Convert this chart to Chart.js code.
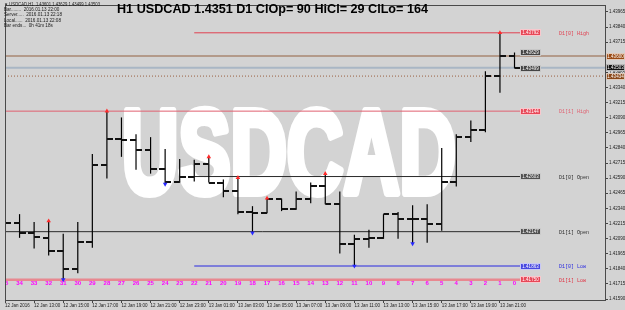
<!DOCTYPE html>
<html><head><meta charset="utf-8">
<script src="https://cdn.jsdelivr.net/npm/chart.js@4.4.1/dist/chart.umd.min.js"></script>
<style>html,body{margin:0;padding:0;background:#d3d3d3;overflow:hidden}canvas{display:block}</style>
</head><body>
<canvas id="c" width="625" height="310"></canvas>
<script>
// ---------- DATA ----------
const barNumbers = [35,34,33,32,31,30,29,28,27,26,25,24,23,22,21,20,19,18,17,16,15,14,13,12,11,10,9,8,7,6,5,4,3,2,1,0];
const opens  = [1.42235,1.42219,1.42137,1.42096,1.41990,1.41835,1.42064,1.42700,1.42912,1.42905,1.42823,1.42668,1.42562,1.42603,1.42708,1.42553,1.42480,1.42309,1.42305,1.42415,1.42333,1.42415,1.42521,1.42374,1.42048,1.42088,1.42096,1.42292,1.42251,1.42251,1.42211,1.42562,1.42929,1.42986,1.43435,1.43601];
const highs  = [1.42292,1.42292,1.42227,1.42235,1.42129,1.42227,1.42790,1.43144,1.43092,1.42953,1.42929,1.42831,1.42749,1.42741,1.42766,1.42578,1.42594,1.42358,1.42423,1.42420,1.42480,1.42553,1.42627,1.42480,1.42121,1.42162,1.42292,1.42309,1.42366,1.42374,1.42839,1.42953,1.43067,1.43475,1.43792,1.43629];
const lows   = [1.42170,1.42096,1.42007,1.41949,1.41750,1.41803,1.42015,1.42586,1.42766,1.42659,1.42627,1.42540,1.42553,1.42562,1.42553,1.42431,1.42292,1.42137,1.42300,1.42317,1.42328,1.42382,1.42374,1.41966,1.41863,1.42015,1.42088,1.42088,1.42048,1.42056,1.42154,1.42521,1.42888,1.42970,1.43296,1.43499];
const closes = [1.42219,1.42137,1.42105,1.41990,1.41835,1.42064,1.42700,1.42912,1.42908,1.42823,1.42668,1.42562,1.42597,1.42708,1.42553,1.42480,1.42309,1.42305,1.42415,1.42333,1.42415,1.42521,1.42374,1.42048,1.42088,1.42096,1.42292,1.42251,1.42251,1.42211,1.42562,1.42929,1.42986,1.43435,1.43601,1.43503];
const fractalUpBars   = [3,7,14,16,18,22,34];
const fractalDownBars = [4,11,17,24,28];
const timeTickBars   = [0,2,4,6,8,10,12,14,16,18,20,22,24,26,28,30,32,34];
const timeTickLabels = ['12 Jan 2016','12 Jan 13:00','12 Jan 15:00','12 Jan 17:00','12 Jan 19:00','12 Jan 21:00','12 Jan 23:00','13 Jan 01:00','13 Jan 03:00','13 Jan 05:00','13 Jan 07:00','13 Jan 09:00','13 Jan 11:00','13 Jan 13:00','13 Jan 15:00','13 Jan 17:00','13 Jan 19:00','13 Jan 21:00'];
const priceTicks = [1.41590,1.41715,1.41840,1.41965,1.42090,1.42215,1.42340,1.42465,1.42590,1.42715,1.42840,1.42965,1.43090,1.43215,1.43340,1.43465,1.43590,1.43715,1.43840,1.43965];
const levelNames    = ['D1[0] High','D1[1] High','D1[0] Open','D1[1] Open','D1[0] Low','D1[1] Low'];
const levelValues   = [1.43792,1.43144,1.42603,1.42147,1.41863,1.41750];
const levelFromBar  = [13,0,13,0,13,0];
const markerValues  = [1.43600,1.43503,1.43434];   // brown level, bid, dotted level
const lastBarLabels = [1.43629,1.43499];
const titleText = 'H1 USDCAD 1.4351 D1 ClOp= 90 HiCl= 29 ClLo= 164';
const infoLines = ['\u25BC USDCAD,H1  1.43601 1.43629 1.43499 1.43503','Bar........  2016.01.13 22:00','Server.....  2016.01.13 22:18','Local......  2016.01.13 22:08','Bar ends...  0h 41m 18s'];

// ---------- STYLE / GEOMETRY ----------
const X_MIN = 0, X_MAX = 41.216, LABEL_AT = 35.41;
const Y_MIN = 1.415818, Y_MAX = 1.44022;
const levelColors = ['#e04050','#e06070','#2a2a2a','#2a2a2a','#2828e0','#e88890'];
const levelWidths = [1,1,1,1,1,2.5];
const levelBoxBg  = ['#e84858','#e84858','#505050','#505050','#4848e0','#e84858'];
const FONT = "'Liberation Sans', Arial, sans-serif";

function tickImg(side){
  const c=document.createElement('canvas'); c.width=12; c.height=2;
  const g=c.getContext('2d'); g.fillStyle='#111'; g.fillRect(side<0?0:6,0,6,2); return c;
}
const openImg = tickImg(-1), closeImg = tickImg(1);

const idx = opens.map((_,i)=>i);
const datasets = [
  {type:'scatter', data: fractalUpBars.map(i=>({x:i,y:highs[i]})), pointStyle:'triangle', pointRadius:2.6, backgroundColor:'#ff2a2a', borderColor:'#ff2a2a', borderWidth:0},
  {type:'scatter', data: fractalDownBars.map(i=>({x:i,y:lows[i]})), pointStyle:'triangle', rotation:180, pointRadius:2.6, backgroundColor:'#2a2aff', borderColor:'#2a2aff', borderWidth:0},
  {type:'scatter', data: idx.map(i=>({x:i,y:opens[i]})), pointStyle:openImg, pointRadius:1},
  {type:'scatter', data: idx.map(i=>({x:i,y:closes[i]})), pointStyle:closeImg, pointRadius:1},
  {type:'bar', data: idx.map(i=>({x:i,y:[lows[i],highs[i]]})), backgroundColor:'#000', borderWidth:0, barThickness:1.2, inflateAmount:0}
];
levelValues.forEach((v,k)=>{
  datasets.push({type:'line', data:[{x:levelFromBar[k],y:v},{x:LABEL_AT,y:v}], borderColor:levelColors[k], borderWidth:levelWidths[k], pointRadius:0, fill:false});
});
datasets.push({type:'line', data:[{x:X_MIN,y:markerValues[0]},{x:X_MAX,y:markerValues[0]}], borderColor:'#b39a8a', borderWidth:2, pointRadius:0});
datasets.push({type:'line', data:[{x:X_MIN,y:markerValues[1]},{x:X_MAX,y:markerValues[1]}], borderColor:'#a9b6c4', borderWidth:2, pointRadius:0});
datasets.push({type:'line', data:[{x:X_MIN,y:markerValues[2]},{x:X_MAX,y:markerValues[2]}], borderColor:'#9a6040', borderWidth:1, borderDash:[1,2], pointRadius:0});

function box(ctx,x,y,text,bg,fg,w){
  const h=7, top=Math.round(y-h/2);
  ctx.fillStyle=bg; ctx.fillRect(x,top,w,h);
  ctx.strokeStyle='rgba(255,255,255,0.7)'; ctx.lineWidth=1; ctx.strokeRect(x+0.5,top+0.5,w-1,h-1);
  ctx.fillStyle=fg; ctx.font='4.5px '+FONT; ctx.textAlign='center'; ctx.textBaseline='middle';
  ctx.fillText(text,x+w/2,top+h/2+0.3);
}

const deco = {
  id:'deco',
  beforeDraw(chart){ const c=chart.ctx; c.save(); c.fillStyle='#d3d3d3'; c.fillRect(0,0,chart.width,chart.height); c.restore(); },
  beforeDatasetsDraw(chart){
    const {ctx,chartArea:a}=chart;
    ctx.save(); ctx.beginPath(); ctx.rect(a.left,a.top,a.right-a.left,a.bottom-a.top); ctx.clip();
    ctx.font='bold 118px '+FONT;
    const w=ctx.measureText('USDCAD').width;
    ctx.translate(122,193); ctx.scale(334/w,1);
    ctx.fillStyle='#ffffff'; ctx.strokeStyle='#ffffff'; ctx.lineWidth=8; ctx.lineJoin='round';
    ctx.strokeText('USDCAD',0,0); ctx.fillText('USDCAD',0,0);
    ctx.restore();
  },
  afterDatasetsDraw(chart){
    const {ctx,chartArea:a,scales:{x,y}}=chart;
    ctx.save();
    // frame
    ctx.strokeStyle='#4a4a4a'; ctx.lineWidth=1; ctx.beginPath();
    ctx.moveTo(a.left+0.5,a.top); ctx.lineTo(a.left+0.5,a.bottom);
    ctx.moveTo(a.left,a.top+0.5); ctx.lineTo(a.right,a.top+0.5); ctx.stroke();
    // bar numbers
    ctx.save(); ctx.beginPath(); ctx.rect(a.left+1,a.top,a.right-a.left,a.bottom-a.top); ctx.clip();
    ctx.fillStyle='#ff00ff'; ctx.font='bold 6px '+FONT; ctx.textAlign='center'; ctx.textBaseline='middle';
    barNumbers.forEach((n,i)=>ctx.fillText(String(n), x.getPixelForValue(i), a.bottom-17));
    ctx.restore();
    // level boxes + names
    const bx = Math.round(x.getPixelForValue(LABEL_AT));
    levelValues.forEach((v,k)=>{
      const py=y.getPixelForValue(v);
      box(ctx,bx,py,v.toFixed(5),levelBoxBg[k],'#fff',21);
      ctx.fillStyle=levelColors[k]==='#e88890'?'#e03040':levelColors[k];
      ctx.font='5px "Liberation Mono", monospace'; ctx.textAlign='left'; ctx.textBaseline='middle';
      ctx.fillText(levelNames[k], bx+39, py+1);
    });
    lastBarLabels.forEach(v=>box(ctx,bx,y.getPixelForValue(v),v.toFixed(5),'#444','#fff',21));
    // right axis markers
    const axBg=['#9a4a14','#101010','#8a4616'];
    markerValues.forEach((v,k)=>box(ctx,a.right+1,y.getPixelForValue(v),v.toFixed(5),axBg[k],'#fff',19));
    // title
    ctx.fillStyle='#000'; ctx.font='bold 12px '+FONT; ctx.textAlign='left'; ctx.textBaseline='alphabetic';
    const tw=ctx.measureText(titleText).width;
    ctx.save(); ctx.translate(117,12.5); ctx.scale(311/tw,1); ctx.fillText(titleText,0,0); ctx.restore();
    // info
    ctx.fillStyle='#1a1a1a'; ctx.font='4.6px '+FONT;
    infoLines.forEach((t,k)=>ctx.fillText(t,4,6+k*5.2, k===0?96:64));
    ctx.restore();
  }
};

new Chart(document.getElementById('c'), {
  type:'bar',
  data:{datasets},
  options:{
    responsive:false, animation:false, devicePixelRatio:1, events:[],
    layout:{padding:{left:2,top:1,right:0,bottom:0}},
    plugins:{legend:{display:false},tooltip:{enabled:false},title:{display:false}},
    scales:{
      x:{type:'linear',min:X_MIN,max:X_MAX,offset:false,bounds:'data',
        afterBuildTicks:s=>{s.ticks=timeTickBars.map(v=>({value:v}));},
        afterFit:s=>{s.height=10;s.paddingLeft=0;s.paddingRight=0;},
        ticks:{callback:(v,i)=>timeTickLabels[i],align:'start',autoSkip:false,maxRotation:0,minRotation:0,padding:0,color:'#222',font:{size:4.5,family:FONT}},
        grid:{drawOnChartArea:false,offset:false,tickLength:3,color:'#444'},
        border:{display:true,color:'#4a4a4a'}},
      y:{type:'linear',position:'right',min:Y_MIN,max:Y_MAX,bounds:'data',beginAtZero:false,
        afterBuildTicks:s=>{s.ticks=priceTicks.map(v=>({value:v}));},
        afterFit:s=>{s.width=20;s.paddingTop=0;s.paddingBottom=0;},
        ticks:{callback:v=>Number(v).toFixed(5),autoSkip:false,padding:1,color:'#222',font:{size:4.5,family:FONT}},
        grid:{drawOnChartArea:false,tickLength:3,color:'#444'},
        border:{display:true,color:'#4a4a4a'}}
    }
  },
  plugins:[deco]
});
</script>
</body></html>
